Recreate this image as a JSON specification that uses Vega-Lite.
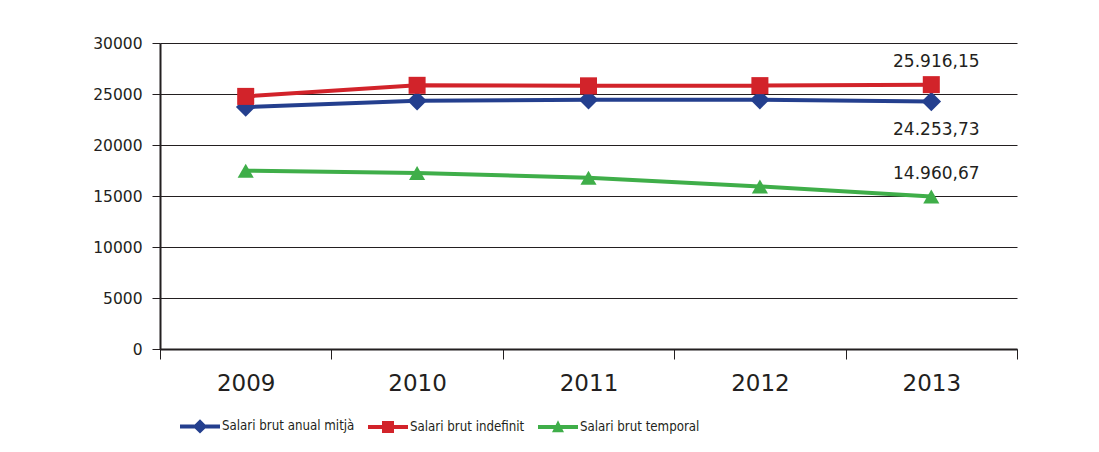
{
  "$schema": "https://vega.github.io/schema/vega-lite/v6.json",
  "width": 857,
  "height": 306,
  "autosize": {"type": "none"},
  "padding": {"left": 160, "top": 43, "right": 82, "bottom": 103},
  "background": "white",
  "config": {
    "view": {"stroke": null},
    "font": "DejaVu Sans",
    "axis": {"labelColor": "#231f20", "domainColor": "#231f20", "tickColor": "#231f20", "gridColor": "#231f20", "gridWidth": 1, "title": null}
  },
  "data": {
    "values": [
      {"year": "2009", "series": "Salari brut anual mitjà", "value": 23725},
      {"year": "2010", "series": "Salari brut anual mitjà", "value": 24330},
      {"year": "2011", "series": "Salari brut anual mitjà", "value": 24430},
      {"year": "2012", "series": "Salari brut anual mitjà", "value": 24440},
      {"year": "2013", "series": "Salari brut anual mitjà", "value": 24253.73, "label": "24.253,73"},
      {"year": "2009", "series": "Salari brut indefinit", "value": 24765},
      {"year": "2010", "series": "Salari brut indefinit", "value": 25850},
      {"year": "2011", "series": "Salari brut indefinit", "value": 25800},
      {"year": "2012", "series": "Salari brut indefinit", "value": 25820},
      {"year": "2013", "series": "Salari brut indefinit", "value": 25916.15, "label": "25.916,15"},
      {"year": "2009", "series": "Salari brut temporal", "value": 17480},
      {"year": "2010", "series": "Salari brut temporal", "value": 17255},
      {"year": "2011", "series": "Salari brut temporal", "value": 16790},
      {"year": "2012", "series": "Salari brut temporal", "value": 15940},
      {"year": "2013", "series": "Salari brut temporal", "value": 14960.67, "label": "14.960,67"}
    ]
  },
  "encoding": {
    "x": {
      "field": "year", "type": "ordinal",
      "scale": {"type": "band", "paddingInner": 0, "paddingOuter": 0},
      "axis": {"labelAngle": 0, "tickBand": "extent", "tickSize": 10, "tickWidth": 1, "domainWidth": 2, "labelFontSize": 23, "labelPadding": 13, "grid": false}
    },
    "y": {
      "field": "value", "type": "quantitative",
      "scale": {"domain": [0, 30000], "nice": false, "zero": true},
      "axis": {"values": [0, 5000, 10000, 15000, 20000, 25000, 30000], "format": "d", "tickSize": 8, "tickWidth": 1, "domainWidth": 2, "labelFontSize": 15.5, "labelPadding": 10, "grid": true}
    }
  },
  "layer": [
    {
      "mark": {"type": "line", "strokeWidth": 4},
      "encoding": {
        "color": {"field": "series", "type": "nominal",
          "scale": {"domain": ["Salari brut anual mitjà", "Salari brut indefinit", "Salari brut temporal"], "range": ["#243f8e", "#d2232a", "#3fae49"]},
          "legend": {
            "title": null, "orient": "none", "legendX": 20, "legendY": 363, "direction": "horizontal",
            "symbolSize": 1600, "labelOffset": 2, "columnPadding": 13,
            "labelFont": "DejaVu Sans Condensed", "labelFontSize": 13.2, "labelColor": "#231f20", "labelLimit": 300,
            "encode": {"symbols": {"update": {
              "shape": {"signal": "datum.value === 'Salari brut anual mitjà' ? 'M-1,-0.1H1V0.1H-1Z M0,-0.36L0.36,0L0,0.36L-0.36,0Z' : (datum.value === 'Salari brut indefinit' ? 'M-1,-0.1H1V0.1H-1Z M-0.3,-0.3H0.3V0.3H-0.3Z' : 'M-1,-0.1H1V0.1H-1Z M0,-0.33L0.3,0.27L-0.3,0.27Z')"},
              "size": {"value": 1600},
              "fill": {"scale": "color", "field": "value"},
              "stroke": {"value": "transparent"},
              "strokeWidth": {"value": 0},
              "opacity": {"value": 1}
            }}}
          }}
      }
    },
    {
      "transform": [{"filter": "datum.series === 'Salari brut anual mitjà'"}],
      "mark": {"type": "point", "filled": true, "opacity": 1, "strokeWidth": 0, "size": 380, "shape": "diamond", "color": "#243f8e"}
    },
    {
      "transform": [{"filter": "datum.series === 'Salari brut indefinit'"}],
      "mark": {"type": "point", "filled": true, "opacity": 1, "strokeWidth": 0, "size": 290, "shape": "square", "color": "#d2232a"}
    },
    {
      "transform": [{"filter": "datum.series === 'Salari brut temporal'"}],
      "mark": {"type": "point", "filled": true, "opacity": 1, "strokeWidth": 0, "size": 260, "shape": "triangle-up", "color": "#3fae49"}
    },
    {
      "transform": [{"filter": "datum.series === 'Salari brut indefinit' && datum.label"}],
      "mark": {"type": "text", "fontSize": 17, "color": "#231f20", "align": "center", "baseline": "middle", "dx": 5, "dy": -23},
      "encoding": {"text": {"field": "label"}}
    },
    {
      "transform": [{"filter": "datum.series === 'Salari brut anual mitjà' && datum.label"}],
      "mark": {"type": "text", "fontSize": 17, "color": "#231f20", "align": "center", "baseline": "middle", "dx": 5, "dy": 28},
      "encoding": {"text": {"field": "label"}}
    },
    {
      "transform": [{"filter": "datum.series === 'Salari brut temporal' && datum.label"}],
      "mark": {"type": "text", "fontSize": 17, "color": "#231f20", "align": "center", "baseline": "middle", "dx": 5, "dy": -22},
      "encoding": {"text": {"field": "label"}}
    }
  ]
}
